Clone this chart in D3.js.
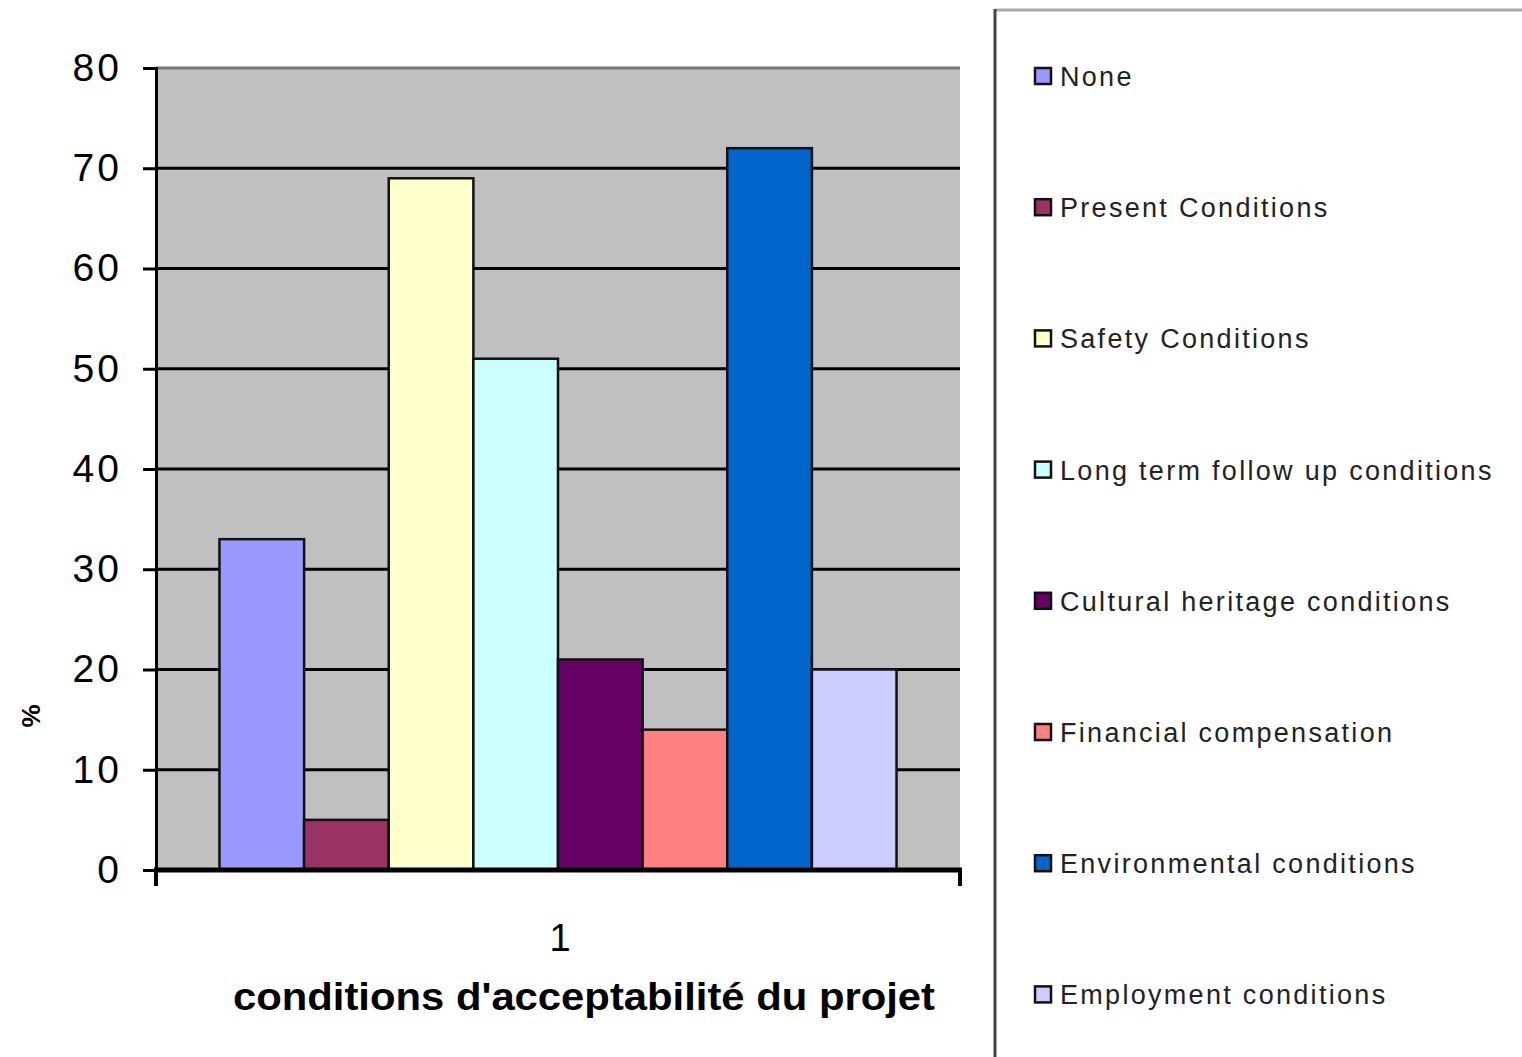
<!DOCTYPE html>
<html lang="en">
<head>
    <meta charset="UTF-8">
    <title>conditions d'acceptabilité du projet</title>
    <script src="https://d3js.org/d3.v7.min.js"></script>
    <style>
        body { margin: 0; background: white; }
        svg { display: block; font-family: Arial, 'Liberation Sans', sans-serif; }
    </style>
</head>
<body>
    <svg width="1522" height="1057"></svg>
    <script>
        // data
        const categories = ["1"];
        const seriesNames = ["None", "Present Conditions", "Safety Conditions", "Long term follow up conditions",
            "Cultural heritage conditions", "Financial compensation", "Environmental conditions", "Employment conditions"];
        const seriesValues = [33, 5, 69, 51, 21, 14, 72, 20];
        const seriesColors = ["#9999ff", "#993366", "#ffffcc", "#ccffff", "#660066", "#ff8080", "#0066cc", "#ccccff"];
        const yTicks = [0, 10, 20, 30, 40, 50, 60, 70, 80];

        const svg = d3.select("svg"),
            margin = {top: 68, left: 156},
            width = 804,
            height = 802,
            g = svg.append("g").attr("transform", `translate(${margin.left},${margin.top})`);

        const x0 = d3.scaleBand().domain(categories).range([0, width]);
        // excel style gap: 150% of a bar width split on both sides
        const barW = width / (seriesNames.length + 1.5);
        const x1 = d3.scaleBand().domain(seriesNames)
            .range([barW * 0.75, barW * 0.75 + barW * seriesNames.length]);
        const y = d3.scaleLinear().domain([0, 80]).range([height, 0]);

        g.append("rect")
            .attr("width", width)
            .attr("height", height)
            .attr("fill", "#c0c0c0");

        // gridlines
        g.selectAll(".grid")
            .data(yTicks.filter(d => d > 0))
            .join("line")
            .attr("x1", 0).attr("x2", width)
            .attr("y1", d => y(d)).attr("y2", d => y(d))
            .attr("stroke", d => d === 80 ? "#777" : "#000")
            .attr("stroke-width", 3);

        // bars
        g.selectAll(".bar")
            .data(seriesNames.map((s, i) => ({s, v: seriesValues[i], c: seriesColors[i]})))
            .join("rect")
            .attr("x", d => x0("1") + x1(d.s))
            .attr("y", d => y(d.v))
            .attr("width", x1.bandwidth())
            .attr("height", d => height - y(d.v))
            .attr("fill", d => d.c)
            .attr("stroke", "#111")
            .attr("stroke-width", 2.5);

        // left axis
        g.append("g")
            .call(d3.axisLeft(y).tickValues(yTicks).tickSize(13).tickPadding(24))
            .call(a => a.select(".domain").attr("stroke", "#000").attr("stroke-width", 3))
            .call(a => a.selectAll(".tick line").attr("stroke", "#000").attr("stroke-width", 3))
            .call(a => a.selectAll(".tick text")
                .attr("fill", "#000")
                .attr("dx", "3px")
                .style("font-size", "39px")
                .style("letter-spacing", "3px"));

        // bottom axis
        const xa = g.append("g").attr("transform", `translate(0,${height})`);
        xa.append("line")
            .attr("x1", -2).attr("x2", width + 2)
            .attr("stroke", "#000").attr("stroke-width", 5);
        xa.selectAll(".xt")
            .data([0, width])
            .join("line")
            .attr("x1", d => d).attr("x2", d => d)
            .attr("y1", 0).attr("y2", 16)
            .attr("stroke", "#000").attr("stroke-width", 4);
        xa.selectAll(".xl")
            .data(categories)
            .join("text")
            .attr("x", d => x0(d) + x0.bandwidth() / 2 + 2)
            .attr("y", 81)
            .attr("text-anchor", "middle")
            .style("font-size", "38px")
            .text(d => d);

        svg.append("text")
            .attr("x", 233)
            .attr("y", 1010)
            .attr("textLength", 702)
            .attr("lengthAdjust", "spacingAndGlyphs")
            .style("font-size", "38px")
            .style("font-weight", "bold")
            .text("conditions d'acceptabilité du projet");

        // tiny y title blob
        svg.append("text")
            .attr("transform", "translate(40,716) rotate(-90)")
            .attr("text-anchor", "middle")
            .style("font-size", "26px")
            .style("font-weight", "bold")
            .text("%");

        // legend box
        svg.append("line")
            .attr("x1", 995).attr("x2", 1522).attr("y1", 10).attr("y2", 10)
            .attr("stroke", "#aaa").attr("stroke-width", 3);
        svg.append("line")
            .attr("x1", 995).attr("x2", 995).attr("y1", 9).attr("y2", 1057)
            .attr("stroke", "#444").attr("stroke-width", 3);

        const legend = svg.append("g").attr("transform", "translate(1035,76)");
        seriesNames.forEach((s, i) => {
            const row = legend.append("g").attr("transform", `translate(0,${i * 131.2})`);
            row.append("rect")
                .attr("x", 0).attr("y", -8)
                .attr("width", 16).attr("height", 16)
                .attr("fill", seriesColors[i])
                .attr("stroke", "#111").attr("stroke-width", 2.5);
            row.append("text")
                .attr("x", 25).attr("y", 10)
                .style("font-size", "27px")
                .style("letter-spacing", "2.3px")
                .attr("fill", "#222")
                .text(s);
        });
    </script>
</body>
</html>
